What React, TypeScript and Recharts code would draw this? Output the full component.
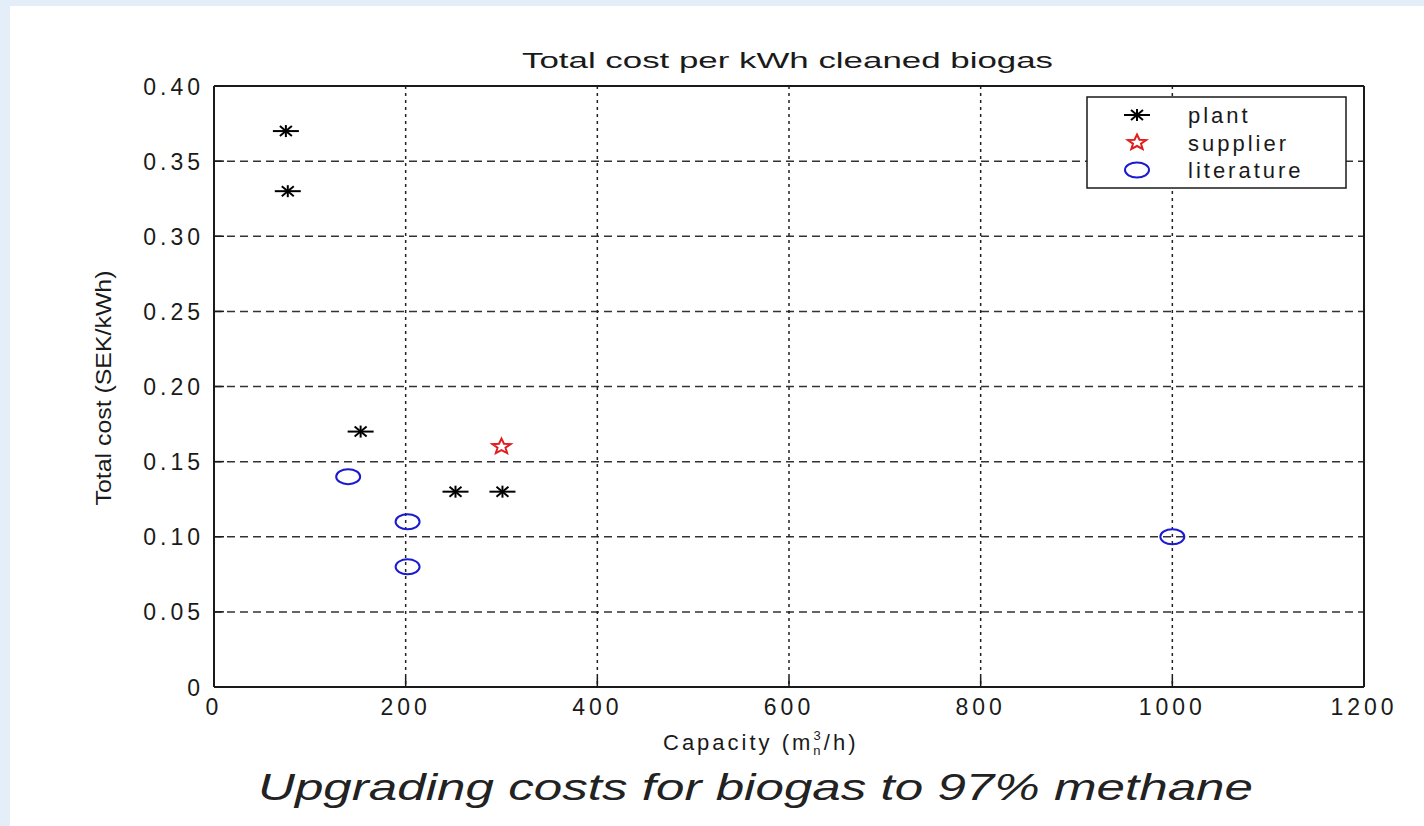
import { ScatterChart, Scatter, XAxis, YAxis, CartesianGrid } from "recharts";

const capacityTicks = [0, 200, 400, 600, 800, 1000, 1200];
const costTicks = [0, 0.05, 0.1, 0.15, 0.2, 0.25, 0.3, 0.35, 0.4];

const plantCapacity = [75, 77, 153, 252, 301];
const plantCost = [0.37, 0.33, 0.17, 0.13, 0.13];
const supplierCapacity = [300];
const supplierCost = [0.16];
const literatureCapacity = [140, 202, 202, 1000];
const literatureCost = [0.14, 0.11, 0.08, 0.1];

const seriesNames = ["plant", "supplier", "literature"];

const FONT = "'Liberation Sans', Arial, sans-serif";
const INK = "#1a1a1a";
const RED = "#e01e1e";
const BLUE = "#1a1ad0";

const toPoints = (xs: number[], ys: number[]) => xs.map((x, i) => ({ x, y: ys[i] }));

const plantData = toPoints(plantCapacity, plantCost);
const supplierData = toPoints(supplierCapacity, supplierCost);
const literatureData = toPoints(literatureCapacity, literatureCost);

function PlantMark({ cx, cy }: { cx: number; cy: number }) {
  return (
    <g stroke="#000" strokeWidth={2}>
      <line x1={cx - 13} y1={cy} x2={cx + 13} y2={cy} />
      <line x1={cx} y1={cy - 6} x2={cx} y2={cy + 6} />
      <line x1={cx - 6} y1={cy - 5} x2={cx + 6} y2={cy + 5} />
      <line x1={cx - 6} y1={cy + 5} x2={cx + 6} y2={cy - 5} />
    </g>
  );
}

function SupplierMark({ cx, cy }: { cx: number; cy: number }) {
  const pts: string[] = [];
  for (let i = 0; i < 10; i++) {
    const r = i % 2 === 0 ? 8 : 3.5;
    const a = -Math.PI / 2 + (i * Math.PI) / 5;
    pts.push(`${cx + r * 1.2 * Math.cos(a)},${cy + r * Math.sin(a)}`);
  }
  return <polygon points={pts.join(" ")} fill="none" stroke={RED} strokeWidth={2} />;
}

function LiteratureMark({ cx, cy }: { cx: number; cy: number }) {
  return <ellipse cx={cx} cy={cy} rx={12} ry={7.5} fill="none" stroke={BLUE} strokeWidth={2} />;
}

const marks = [PlantMark, SupplierMark, LiteratureMark];

const tickText = {
  fontFamily: FONT,
  fontSize: 23,
  fill: INK,
  letterSpacing: 4,
};

function BottomTick(props: any) {
  const { x, y, payload } = props;
  return (
    <g>
      <line x1={x} y1={y} x2={x} y2={y - 10} stroke={INK} strokeWidth={1.5} />
      <text x={x} y={y + 28} textAnchor="middle" {...tickText}>
        {payload.value}
      </text>
    </g>
  );
}

function LeftTick(props: any) {
  const { x, y, payload } = props;
  const v = payload.value === 0 ? "0" : Number(payload.value).toFixed(2);
  return (
    <g>
      <line x1={x} y1={y} x2={x + 10} y2={y} stroke={INK} strokeWidth={1.5} />
      <text x={x - 10} y={y + 8.5} textAnchor="end" {...tickText}>
        {v}
      </text>
    </g>
  );
}

function TopTick(props: any) {
  const { x, y } = props;
  return <line x1={x} y1={y} x2={x} y2={y + 10} stroke={INK} strokeWidth={1.5} />;
}

function RightTick(props: any) {
  const { x, y } = props;
  return <line x1={x} y1={y} x2={x - 10} y2={y} stroke={INK} strokeWidth={1.5} />;
}

const axisLine = { stroke: INK, strokeWidth: 2 };

export default function App() {
  return (
    <div style={{ position: "absolute", left: 0, top: 0, width: 1424, height: 826, background: "#e4eef8", overflow: "hidden" }}>
      <div style={{ position: "absolute", left: 10, top: 6, width: 1414, height: 820, background: "#fff" }} />
      <div style={{ position: "absolute", left: 0, top: 0 }}>
        <ScatterChart width={1424} height={826} margin={{ top: 76, right: 50, bottom: 99, left: 154 }}>
          <CartesianGrid horizontal vertical={false} strokeDasharray="8 5" stroke="#333" strokeWidth={1.5} />
          <CartesianGrid horizontal={false} vertical strokeDasharray="3 4" stroke="#222" strokeWidth={1.5} />
          <XAxis
            dataKey="x"
            type="number"
            domain={[0, 1200]}
            ticks={capacityTicks}
            interval={0}
            height={40}
            tickSize={0}
            tickMargin={0}
            tick={BottomTick}
            axisLine={axisLine}
            tickLine={false}
          />
          <XAxis
            xAxisId="top"
            orientation="top"
            type="number"
            domain={[0, 1200]}
            ticks={capacityTicks}
            interval={0}
            height={10}
            tickSize={0}
            tickMargin={0}
            tick={TopTick}
            axisLine={axisLine}
            tickLine={false}
          />
          <YAxis
            dataKey="y"
            type="number"
            domain={[0, 0.4]}
            ticks={costTicks}
            interval={0}
            width={60}
            tickSize={0}
            tickMargin={0}
            tick={LeftTick}
            axisLine={axisLine}
            tickLine={false}
          />
          <YAxis
            yAxisId="right"
            orientation="right"
            type="number"
            domain={[0, 0.4]}
            ticks={costTicks}
            interval={0}
            width={10}
            tickSize={0}
            tickMargin={0}
            tick={RightTick}
            axisLine={axisLine}
            tickLine={false}
          />
          <Scatter name={seriesNames[0]} data={plantData} isAnimationActive={false} shape={(p: any) => <PlantMark cx={p.cx} cy={p.cy} />} />
          <Scatter name={seriesNames[1]} data={supplierData} isAnimationActive={false} shape={(p: any) => <SupplierMark cx={p.cx} cy={p.cy} />} />
          <Scatter name={seriesNames[2]} data={literatureData} isAnimationActive={false} shape={(p: any) => <LiteratureMark cx={p.cx} cy={p.cy} />} />
        </ScatterChart>
      </div>
      <svg width={1424} height={826} style={{ position: "absolute", left: 0, top: 0, pointerEvents: "none" }}>
        <text x={522} y={68} fontFamily={FONT} fontSize={22} fill={INK} textLength={531} lengthAdjust="spacingAndGlyphs">
          Total cost per kWh cleaned biogas
        </text>
        <text x={663} y={750} fontFamily={FONT} fontSize={22} fill={INK} letterSpacing={3}>
          Capacity (m
          <tspan fontSize={13} dy={5}>n</tspan>
          <tspan fontSize={13} dx={-10} dy={-15}>3</tspan>
          <tspan dy={10}>/h)</tspan>
        </text>
        <text
          x={0}
          y={0}
          transform="translate(111 388) rotate(-90)"
          textAnchor="middle"
          fontFamily={FONT}
          fontSize={22}
          fill={INK}
          textLength={235}
          lengthAdjust="spacingAndGlyphs"
        >
          Total cost (SEK/kWh)
        </text>
        <text x={258} y={800} fontFamily={FONT} fontSize={37} fontStyle="italic" fill="#222" textLength={995} lengthAdjust="spacingAndGlyphs">
          Upgrading costs for biogas to 97% methane
        </text>
        <rect x={1087} y={97} width={259} height={91} fill="#fff" stroke={INK} strokeWidth={1.5} />
        {seriesNames.map((name, i) => {
          const Mark = marks[i];
          const cy = 115 + i * 27.5;
          return (
            <g key={name}>
              <Mark cx={1137} cy={cy} />
              <text x={1188} y={cy + 8} fontFamily={FONT} fontSize={22} fill={INK} letterSpacing={3}>
                {name}
              </text>
            </g>
          );
        })}
      </svg>
    </div>
  );
}
